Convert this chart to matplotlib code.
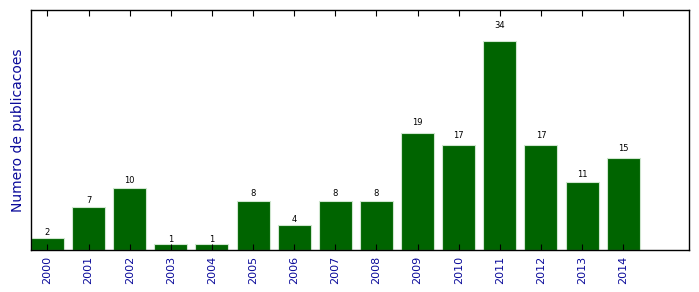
import numpy as np
import matplotlib
matplotlib.use("Agg")
import matplotlib.pyplot as plt

# Data
anos = ["2000", "2001", "2002", "2003", "2004", "2005", "2006", "2007",
        "2008", "2009", "2010", "2011", "2012", "2013", "2014"]
publicacoes = [2, 7, 10, 1, 1, 8, 4, 8, 8, 19, 17, 34, 17, 11, 15]

fig = plt.figure(figsize=(6.99, 2.92), dpi=100)
ax = fig.add_axes([0.0443, 0.1438, 0.9414, 0.822])

x = np.arange(len(anos))
width = 0.8
rects = ax.bar(x, publicacoes, width, align="edge", color="#006400",
               edgecolor="#cfe6cf", linewidth=0.8)

# Value labels above each bar
for rect in rects:
    h = rect.get_height()
    ax.text(rect.get_x() + rect.get_width() / 2., 1.05 * h, "%d" % int(h),
            ha="center", va="bottom", fontsize=6)

ax.set_xlim(0, 16)
ax.set_ylim(0, 39)
ax.set_xticks(x + width / 2)
ax.set_xticklabels(anos, rotation=90, fontsize=8, color="#0a0a9a")
ax.set_yticks([])
ax.tick_params(axis="x", direction="in", length=4, top=True, bottom=True, pad=4)
ax.set_ylabel("Numero de publicacoes", fontsize=10, color="#0a0a9a")
for s in ax.spines.values():
    s.set_linewidth(1.0)

fig.savefig("out.png", dpi=100)
